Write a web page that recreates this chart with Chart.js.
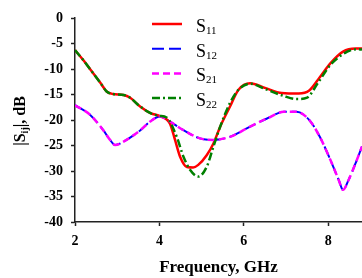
<!DOCTYPE html>
<html>
<head>
<meta charset="utf-8">
<script src="https://cdn.jsdelivr.net/npm/chart.js@4.4.1/dist/chart.umd.min.js"></script>
<style>
  body { margin: 0; background: #fff; }
  #wrap { width: 362px; height: 278px; }
</style>
</head>
<body>
<div id="wrap"><canvas id="grafico"></canvas></div>
<script>
// valores (GHz, dB)
const s11Freq = [2.0, 2.2, 2.4, 2.6, 2.75, 2.9, 3.15, 3.3, 3.55, 3.8, 4.0, 4.25, 4.37, 4.49, 4.65, 4.8, 4.92, 5.12, 5.28, 5.44, 5.67, 5.87, 6.15, 6.5, 6.9, 7.3, 7.55, 7.8, 8.05, 8.35, 8.65, 8.8];
const s11Db = [-6.3, -8.3, -10.5, -12.7, -14.4, -14.9, -15.1, -15.6, -17.4, -18.7, -19.2, -20.7, -23.9, -27.2, -29.2, -29.3, -28.8, -26.9, -24.6, -21.3, -17.4, -14.1, -12.8, -13.7, -14.7, -14.8, -14.2, -11.6, -8.9, -6.6, -6.0, -6.0];

const s22Freq = [2.0, 2.2, 2.4, 2.6, 2.75, 2.9, 3.15, 3.3, 3.55, 3.8, 4.0, 4.17, 4.41, 4.57, 4.73, 4.92, 5.12, 5.28, 5.44, 5.67, 5.87, 6.15, 6.5, 6.95, 7.25, 7.5, 7.75, 8.05, 8.45, 8.7, 8.8];
const s22Db = [-6.3, -8.3, -10.5, -12.7, -14.4, -14.9, -15.1, -15.6, -17.4, -18.7, -19.2, -19.5, -23.3, -27.2, -29.8, -31.1, -29.2, -25.2, -21.3, -16.7, -14.1, -12.9, -13.9, -15.3, -15.9, -15.6, -12.8, -9.2, -6.6, -6.1, -6.2];

// S12 y S21 coinciden
const s21Freq = [2.0, 2.36, 2.67, 2.83, 2.95, 3.2, 3.55, 3.78, 4.01, 4.25, 4.57, 4.96, 5.28, 5.67, 6.15, 6.55, 6.95, 7.25, 7.55, 7.8, 8.05, 8.25, 8.35, 8.48, 8.68, 8.8];
const s21Db = [-17.1, -19.0, -22.0, -23.9, -24.9, -24.0, -22.0, -20.3, -19.3, -20.3, -22.0, -23.6, -23.9, -23.3, -21.3, -19.7, -18.4, -18.4, -20.0, -23.3, -27.8, -31.8, -33.7, -31.8, -27.8, -25.2];
const s12Freq = s21Freq;
const s12Db = s21Db;

const xTicks = [2, 4, 6, 8];
const nombres = ['S11', 'S12', 'S21', 'S22'];

const serif = '"Liberation Serif", "Times New Roman", serif';

const toPoints = (xs, ys) => xs.map((x, i) => ({ x: x, y: ys[i] }));

// leyenda con subindices
const leyendaPlugin = {
    id: 'leyenda',
    afterDatasetsDraw(chart) {
        const c = chart.ctx;
        nombres.forEach((nombre, i) => {
            const ds = chart.data.datasets.find(d => d.label === nombre);
            const y = 24 + i * 24.7;
            c.save();
            c.strokeStyle = ds.borderColor;
            c.lineWidth = ds.borderWidth;
            c.setLineDash(ds.borderDash || []);
            c.beginPath();
            c.moveTo(152, y);
            c.lineTo(182, y);
            c.stroke();
            c.setLineDash([]);
            c.fillStyle = '#000';
            c.textBaseline = 'alphabetic';
            c.font = '18px ' + serif;
            c.fillText('S', 196, y + 8);
            const w = c.measureText('S').width;
            c.font = '11px ' + serif;
            c.fillText(nombre.slice(1), 196 + w, y + 10);
            c.restore();
        });
    }
};

// titulo del eje y: |Sij|, dB
const tituloYPlugin = {
    id: 'tituloY',
    afterDraw(chart) {
        const c = chart.ctx;
        const grande = 'bold 16px ' + serif;
        const chica = 'bold 10px ' + serif;
        const partes = [['|S', grande, 0], ['ij', chica, 4], ['|, dB', grande, 0]];
        c.save();
        c.translate(21, 121);
        c.rotate(-Math.PI / 2);
        let total = 0;
        partes.forEach(p => { c.font = p[1]; total += c.measureText(p[0]).width; });
        let x = -total / 2;
        c.fillStyle = '#000';
        c.textBaseline = 'middle';
        partes.forEach(p => {
            c.font = p[1];
            c.fillText(p[0], x, p[2]);
            x += c.measureText(p[0]).width;
        });
        c.restore();
    }
};

const ctx = document.getElementById('grafico');

const chart = new Chart(ctx, {
    type: 'line',
    data: {
        datasets: [
            {
                label: 'S22',
                data: toPoints(s22Freq, s22Db),
                borderColor: '#008000',
                borderWidth: 2.5,
                borderDash: [8, 3, 2, 3],
                order: 0
            },
            {
                label: 'S21',
                data: toPoints(s21Freq, s21Db),
                borderColor: '#FF00FF',
                borderWidth: 2.5,
                borderDash: [7, 4],
                order: 1
            },
            {
                label: 'S11',
                data: toPoints(s11Freq, s11Db),
                borderColor: '#FF0000',
                borderWidth: 2.5,
                order: 2
            },
            {
                label: 'S12',
                data: toPoints(s12Freq, s12Db),
                borderColor: '#0000FF',
                borderWidth: 2,
                borderDash: [12, 5],
                order: 3
            }
        ]
    },
    options: {
        responsive: true,
        maintainAspectRatio: false,
        devicePixelRatio: 1,
        animation: false,
        layout: { padding: { top: 18, right: 0, left: 0, bottom: 0 } },
        elements: {
            point: { radius: 0 },
            line: { cubicInterpolationMode: 'monotone', fill: false }
        },
        scales: {
            x: {
                type: 'linear',
                min: 2,
                max: 8.8,
                afterBuildTicks: scale => { scale.ticks = xTicks.map(v => ({ value: v })); },
                afterFit: scale => { scale.height = 56; },
                border: { color: '#222', width: 1.5 },
                grid: { drawOnChartArea: false, tickLength: 4, color: '#222', tickWidth: 1.5 },
                ticks: {
                    color: '#000',
                    padding: 7,
                    maxRotation: 0,
                    font: { family: serif, size: 14, weight: 'bold' }
                },
                title: {
                    display: true,
                    text: 'Frequency, GHz',
                    color: '#000',
                    padding: { top: 0, bottom: 0 },
                    font: { family: serif, size: 17, weight: 'bold' }
                }
            },
            y: {
                min: -40,
                max: 0,
                afterFit: scale => { scale.width = 75; },
                border: { color: '#222', width: 1.5 },
                grid: { drawOnChartArea: false, tickLength: 4, color: '#222', tickWidth: 1.5 },
                ticks: {
                    stepSize: 5,
                    color: '#000',
                    padding: 8,
                    font: { family: serif, size: 14, weight: 'bold' }
                }
            }
        },
        plugins: {
            legend: { display: false },
            tooltip: { enabled: false }
        }
    },
    plugins: [leyendaPlugin, tituloYPlugin]
});
</script>
</body>
</html>
